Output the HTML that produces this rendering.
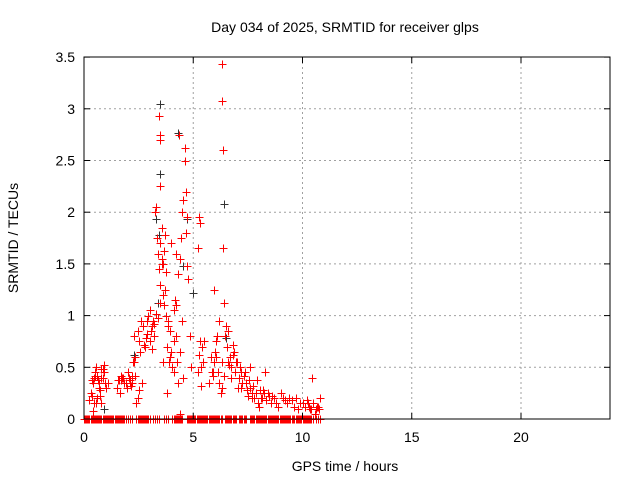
<!DOCTYPE html>
<html><head><meta charset="utf-8"><style>
body{margin:0;background:#fff;}
svg text{font-family:"Liberation Sans",sans-serif;fill:#000;}
</style></head><body>
<svg id="chart" width="640" height="480" xmlns="http://www.w3.org/2000/svg">
<rect x="0" y="0" width="640" height="480" fill="#fff"/>
<g id="grid"></g>
<g id="marks" shape-rendering="crispEdges"></g>
<rect x="84" y="57" width="526" height="362" fill="none" stroke="#000" stroke-width="1"/>
<g id="ticks"></g>
<text x="345" y="32" font-size="14" text-anchor="middle">Day 034 of 2025, SRMTID for receiver glps</text>
<text x="345" y="471" font-size="14" text-anchor="middle">GPS time / hours</text>
<text x="18" y="238" font-size="14" text-anchor="middle" transform="rotate(-90 18 238)">SRMTID / TECUs</text>
</svg>
<script>
const xTicks=[0,5,10,15,20];
const yTicks=[0,0.5,1,1.5,2,2.5,3,3.5];
const yTickLabels=["0","0.5","1","1.5","2","2.5","3","3.5"];
const redHours=[0.25,0.3,0.35,0.4,0.45,0.5,0.55,0.6,0.65,0.7,0.75,0.8,0.85,0.9,0.95,0.6,0.75,0.85,0.9,1.0,1.1,1.5,1.6,1.7,1.75,1.85,1.95,2.0,2.05,2.1,2.15,2.2,2.25,2.3,2.35,2.4,2.45,2.45,2.5,2.55,2.6,2.7,2.75,2.85,2.9,2.95,3.0,3.05,3.1,3.15,3.2,3.25,3.3,3.35,3.4,3.45,3.45,3.5,3.5,3.5,3.5,3.5,3.55,3.55,3.6,3.6,3.65,3.7,3.75,3.8,3.85,3.9,3.95,4.0,4.05,4.1,4.15,4.2,4.2,4.25,4.3,4.35,4.4,4.4,4.45,4.5,4.55,4.6,4.6,4.65,4.7,4.75,4.85,4.9,5.2,5.25,5.3,5.35,5.4,5.5,5.7,5.8,5.85,5.9,5.95,6.0,6.05,6.1,6.15,6.2,6.25,6.3,6.3,6.3,6.3,6.35,6.35,6.4,6.5,6.6,6.7,6.75,6.8,6.85,6.9,7.0,7.1,7.2,7.3,7.4,7.5,7.6,7.7,7.8,7.9,8.0,8.1,8.2,8.4,8.6,8.8,9.0,9.2,9.4,9.6,9.8,10.0,10.2,10.3,10.4,10.5,10.6,10.7,10.8,0.4,0.55,0.8,1.7,2.3,2.2,3.6,3.8,4.1,4.4,5.25,5.95,6.6,7.2,7.6,8.3,10.45,
0.35,0.45,0.5,0.7,0.8,1.55,1.65,1.8,1.9,2.1,2.2,2.35,2.5,2.65,2.8,2.9,3.0,3.1,3.2,3.3,3.4,3.5,3.55,3.65,3.7,3.75,3.85,3.95,4.0,4.1,4.2,4.3,4.5,4.55,4.65,4.7,5.2,5.3,5.35,5.45,5.9,6.05,6.2,6.4,6.45,6.55,6.65,6.75,6.8,6.95,7.05,7.15,7.25,7.35,7.45,7.55,7.7,7.75,7.85,7.95,8.05,8.15,8.25,8.35,8.45,8.55,8.7,8.9,9.1,9.3,9.5,9.7,9.9,10.1,10.25,10.35,10.55,10.65,10.75];
const redValues=[0.18,0.25,0.38,0.35,0.4,0.45,0.5,0.42,0.38,0.3,0.22,0.15,0.4,0.45,0.35,0.2,0.28,0.48,0.52,0.3,0.35,0.3,0.38,0.42,0.4,0.35,0.3,0.45,0.4,0.35,0.32,0.42,0.55,0.8,0.6,0.15,0.2,0.85,0.75,0.65,0.95,0.9,0.72,0.78,0.95,1.0,1.05,0.85,0.9,0.95,0.8,2.0,2.05,1.75,1.6,1.45,2.93,2.75,2.7,2.25,1.3,1.7,1.55,1.85,1.2,1.5,1.1,1.25,1.0,0.7,0.9,0.55,0.85,0.65,0.5,0.75,1.15,1.1,0.8,0.55,0.35,2.75,0.05,1.55,1.75,2.0,2.12,2.5,2.62,2.2,1.95,1.35,0.8,0.5,0.45,0.62,0.75,0.5,0.7,0.75,0.35,0.6,0.45,0.45,0.55,0.65,0.75,0.8,0.45,0.35,0.25,0.3,0.55,3.43,3.08,2.6,1.65,1.12,0.9,0.85,0.6,0.5,0.72,0.65,0.45,0.55,0.4,0.3,0.42,0.35,0.22,0.3,0.25,0.2,0.38,0.12,0.2,0.28,0.25,0.22,0.15,0.25,0.18,0.2,0.12,0.1,0.15,0.18,0.12,0.1,0.15,0.1,0.12,0.2,0.08,0.15,0.4,0.38,0.55,0.35,0.55,0.25,1.05,0.65,1.95,1.25,0.55,0.45,0.5,0.45,0.4,0.22,0.15,
0.42,0.35,0.48,0.38,0.25,0.4,0.35,0.38,0.4,0.42,0.28,0.35,0.7,0.82,0.75,0.68,0.92,1.02,0.98,1.12,1.5,1.62,1.78,1.42,0.95,0.6,1.7,0.45,1.6,1.4,0.95,0.4,1.8,1.48,1.65,1.9,0.32,0.55,0.42,0.6,0.95,0.42,0.8,0.7,0.52,0.4,0.62,0.55,0.3,0.5,0.35,0.45,0.28,0.38,0.2,0.32,0.25,0.15,0.28,0.2,0.25,0.18,0.22,0.15,0.2,0.12,0.2,0.15,0.18,0.2,0.15,0.12,0.15,0.1,0.05,0.12,0.1,0.18,0.12];
const zeroHours=[0,0.05,0.1,0.15,0.2,0.25,0.3,0.35,0.4,0.45,0.5,0.55,0.6,0.65,0.7,0.75,0.8,0.85,0.9,0.95,1.0,1.05,1.1,1.15,1.2,1.25,1.3,1.35,1.4,1.45,1.5,1.55,1.6,1.65,1.7,1.75,1.8,1.85,1.9,2.0,2.1,2.2,2.4,2.45,2.5,2.55,2.6,2.65,2.7,2.75,2.8,2.85,2.9,2.95,3.0,3.15,3.25,3.35,3.45,3.65,3.75,3.85,4.05,4.1,4.15,4.2,4.25,4.3,4.35,4.4,4.45,4.5,4.7,4.75,4.8,4.85,4.9,4.95,5.0,5.05,5.1,5.15,5.2,5.25,5.3,5.35,5.4,5.45,5.5,5.55,5.6,5.65,5.7,5.75,5.8,5.85,5.9,5.95,6.0,6.05,6.1,6.15,6.2,6.25,6.3,6.45,6.5,6.55,6.6,6.65,6.7,6.75,6.8,6.85,6.9,6.95,7.1,7.15,7.2,7.25,7.3,7.35,7.4,7.6,7.65,7.7,7.75,7.8,7.85,7.9,7.95,8.0,8.05,8.1,8.15,8.2,8.25,8.3,8.35,8.4,8.45,8.5,8.55,8.6,8.65,8.7,8.75,8.8,8.85,8.9,8.95,9.0,9.05,9.1,9.15,9.2,9.25,9.3,9.35,9.4,9.45,9.5,9.55,9.6,9.7,9.75,9.8,9.85,9.9,9.95,10.0,10.05,10.1,10.15,10.2,10.25,10.3,10.35,10.4,10.5,10.6,10.7,10.8];
const blackHours=[3.5,3.5,3.45,3.3,4.3,4.55,6.4,6.35,4.7,0.9,2.3,3.4,4.5,5.0,6.5];
const blackValues=[3.05,2.37,1.78,1.93,2.77,1.48,2.08,1.65,1.93,0.1,0.62,1.12,0.95,1.22,0.78];
const X=h=>84+h*21.85, Y=v=>419-v*103.4;
const NS="http://www.w3.org/2000/svg";
const grid=document.getElementById('grid'),ticks=document.getElementById('ticks'),marks=document.getElementById('marks');
function ln(p,x1,y1,x2,y2,st,dash){const l=document.createElementNS(NS,'line');l.setAttribute('x1',x1);l.setAttribute('y1',y1);l.setAttribute('x2',x2);l.setAttribute('y2',y2);l.setAttribute('stroke',st);if(dash)l.setAttribute('stroke-dasharray',dash);p.appendChild(l);return l;}
function tx(p,x,y,s,a){const t=document.createElementNS(NS,'text');t.setAttribute('x',x);t.setAttribute('y',y);t.setAttribute('font-size','14');t.setAttribute('text-anchor',a);t.textContent=s;p.appendChild(t);return t;}
xTicks.forEach(v=>{const x=X(v);
 if(v>0){const g=ln(grid,x,57,x,419,'#a0a0a0','2,3');}
 ln(ticks,x,419,x,413,'#000');ln(ticks,x,57,x,63,'#000');
 const t=tx(ticks,x,442,String(v),'middle');
 
 });
yTicks.forEach((v,i)=>{const y=Y(v);
 if(v>0&&v<3.5){const g=ln(grid,84,y,610,y,'#a0a0a0','2,3');}
 ln(ticks,84,y,90,y,'#000');ln(ticks,610,y,604,y,'#000');
 const t=tx(ticks,75,y+5,yTickLabels[i],'end');
 
 });
function plus(h,v,c,name){const x=Math.round(X(h))+0.5,y=Math.round(Y(v))+0.5;const p=document.createElementNS(NS,'path');
 p.setAttribute('d',`M${x-4},${y}H${x+4}M${x},${y-4}V${y+4}`);p.setAttribute('stroke',c);p.setAttribute('stroke-width','1');
 
 
 marks.appendChild(p);}
blackHours.forEach((h,i)=>plus(h,blackValues[i],'#333','point-black'));
zeroHours.forEach(h=>plus(h,0,'#f00','point-zero'));
redHours.forEach((h,i)=>plus(h,redValues[i],'#f00','point-red'));
</script>
</body></html>
